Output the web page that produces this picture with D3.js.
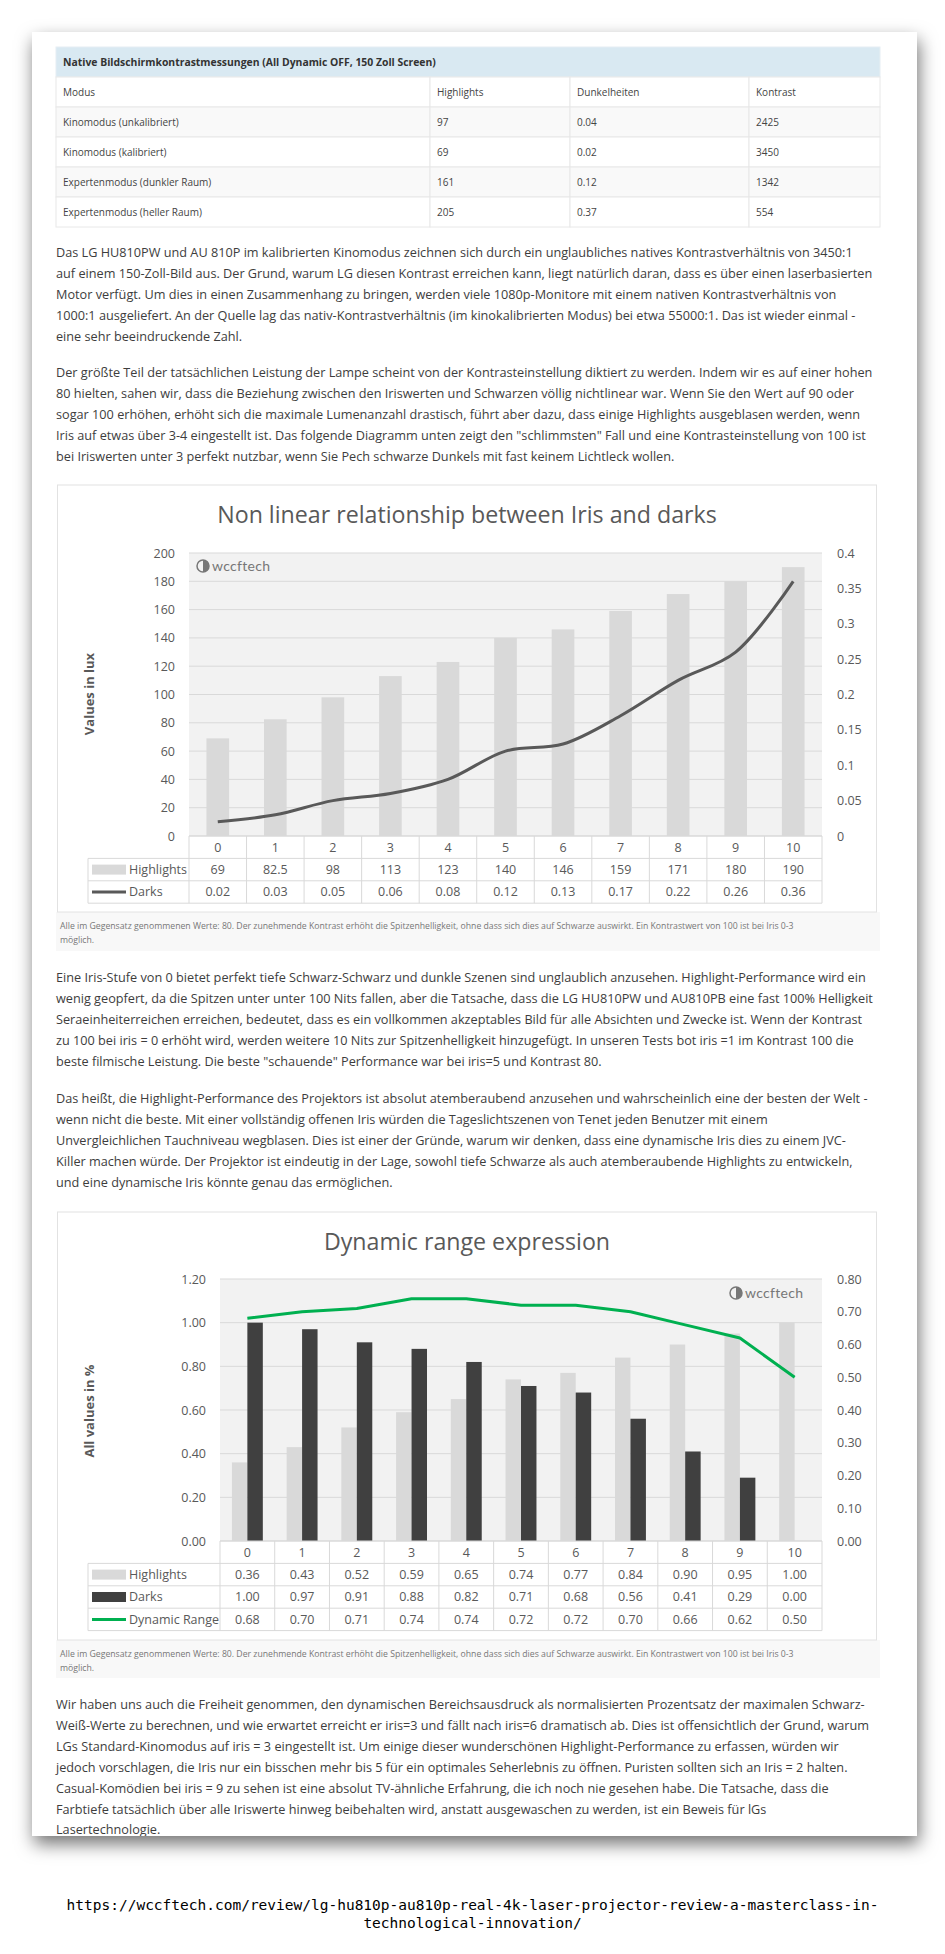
<!DOCTYPE html>
<html>
<head>
<meta charset="utf-8">
<script src="https://cdn.jsdelivr.net/npm/d3@7"></script>
<style>
  body { margin: 0; background: #fff; }
  svg text { font-family: "Open Sans", sans-serif; }
</style>
</head>
<body>
<div id="page"></div>
<script>
// ---- data ----
const tableTitle = "Native Bildschirmkontrastmessungen (All Dynamic OFF, 150 Zoll Screen)";
const tableHead = ["Modus", "Highlights", "Dunkelheiten", "Kontrast"];
const tableModes = ["Kinomodus (unkalibriert)", "Kinomodus (kalibriert)", "Expertenmodus (dunkler Raum)", "Expertenmodus (heller Raum)"];
const tableHighlights = [97, 69, 161, 205];
const tableDarks = [0.04, 0.02, 0.12, 0.37];
const tableContrast = [2425, 3450, 1342, 554];

const iris = [0, 1, 2, 3, 4, 5, 6, 7, 8, 9, 10];
const luxHighlights = [69, 82.5, 98, 113, 123, 140, 146, 159, 171, 180, 190];
const luxDarks = [0.02, 0.03, 0.05, 0.06, 0.08, 0.12, 0.13, 0.17, 0.22, 0.26, 0.36];
const luxTicks = [0, 20, 40, 60, 80, 100, 120, 140, 160, 180, 200];
const darkTicks = [0, 0.05, 0.1, 0.15, 0.2, 0.25, 0.3, 0.35, 0.4];

const normHighlights = [0.36, 0.43, 0.52, 0.59, 0.65, 0.74, 0.77, 0.84, 0.90, 0.95, 1.00];
const normDarks = [1.00, 0.97, 0.91, 0.88, 0.82, 0.71, 0.68, 0.56, 0.41, 0.29, 0.00];
const dynamicRange = [0.68, 0.70, 0.71, 0.74, 0.74, 0.72, 0.72, 0.70, 0.66, 0.62, 0.50];
const pctTicks = [0, 0.2, 0.4, 0.6, 0.8, 1.0, 1.2];
const dynTicks = [0, 0.1, 0.2, 0.3, 0.4, 0.5, 0.6, 0.7, 0.8];

const caption = [
  "Alle im Gegensatz genommenen Werte: 80. Der zunehmende Kontrast erhöht die Spitzenhelligkeit, ohne dass sich dies auf Schwarze auswirkt. Ein Kontrastwert von 100 ist bei Iris 0-3",
  "möglich."
];
const para1 = [
  "Das LG HU810PW und AU 810P im kalibrierten Kinomodus zeichnen sich durch ein unglaubliches natives Kontrastverhältnis von 3450:1",
  "auf einem 150-Zoll-Bild aus. Der Grund, warum LG diesen Kontrast erreichen kann, liegt natürlich daran, dass es über einen laserbasierten",
  "Motor verfügt. Um dies in einen Zusammenhang zu bringen, werden viele 1080p-Monitore mit einem nativen Kontrastverhältnis von",
  "1000:1 ausgeliefert. An der Quelle lag das nativ-Kontrastverhältnis (im kinokalibrierten Modus) bei etwa 55000:1. Das ist wieder einmal -",
  "eine sehr beeindruckende Zahl."
];
const para2 = [
  "Der größte Teil der tatsächlichen Leistung der Lampe scheint von der Kontrasteinstellung diktiert zu werden. Indem wir es auf einer hohen",
  "80 hielten, sahen wir, dass die Beziehung zwischen den Iriswerten und Schwarzen völlig nichtlinear war. Wenn Sie den Wert auf 90 oder",
  "sogar 100 erhöhen, erhöht sich die maximale Lumenanzahl drastisch, führt aber dazu, dass einige Highlights ausgeblasen werden, wenn",
  "Iris auf etwas über 3-4 eingestellt ist. Das folgende Diagramm unten zeigt den \"schlimmsten\" Fall und eine Kontrasteinstellung von 100 ist",
  "bei Iriswerten unter 3 perfekt nutzbar, wenn Sie Pech schwarze Dunkels mit fast keinem Lichtleck wollen."
];
const para3 = [
  "Eine Iris-Stufe von 0 bietet perfekt tiefe Schwarz-Schwarz und dunkle Szenen sind unglaublich anzusehen. Highlight-Performance wird ein",
  "wenig geopfert, da die Spitzen unter unter 100 Nits fallen, aber die Tatsache, dass die LG HU810PW und AU810PB eine fast 100% Helligkeit",
  "Seraeinheiterreichen erreichen, bedeutet, dass es ein vollkommen akzeptables Bild für alle Absichten und Zwecke ist. Wenn der Kontrast",
  "zu 100 bei iris = 0 erhöht wird, werden weitere 10 Nits zur Spitzenhelligkeit hinzugefügt. In unseren Tests bot iris =1 im Kontrast 100 die",
  "beste filmische Leistung. Die beste \"schauende\" Performance war bei iris=5 und Kontrast 80."
];
const para4 = [
  "Das heißt, die Highlight-Performance des Projektors ist absolut atemberaubend anzusehen und wahrscheinlich eine der besten der Welt -",
  "wenn nicht die beste. Mit einer vollständig offenen Iris würden die Tageslichtszenen von Tenet jeden Benutzer mit einem",
  "Unvergleichlichen Tauchniveau wegblasen. Dies ist einer der Gründe, warum wir denken, dass eine dynamische Iris dies zu einem JVC-",
  "Killer machen würde. Der Projektor ist eindeutig in der Lage, sowohl tiefe Schwarze als auch atemberaubende Highlights zu entwickeln,",
  "und eine dynamische Iris könnte genau das ermöglichen."
];
const para5 = [
  "Wir haben uns auch die Freiheit genommen, den dynamischen Bereichsausdruck als normalisierten Prozentsatz der maximalen Schwarz-",
  "Weiß-Werte zu berechnen, und wie erwartet erreicht er iris=3 und fällt nach iris=6 dramatisch ab. Dies ist offensichtlich der Grund, warum",
  "LGs Standard-Kinomodus auf iris = 3 eingestellt ist. Um einige dieser wunderschönen Highlight-Performance zu erfassen, würden wir",
  "jedoch vorschlagen, die Iris nur ein bisschen mehr bis 5 für ein optimales Seherlebnis zu öffnen. Puristen sollten sich an Iris = 2 halten.",
  "Casual-Komödien bei iris = 9 zu sehen ist eine absolut TV-ähnliche Erfahrung, die ich noch nie gesehen habe. Die Tatsache, dass die",
  "Farbtiefe tatsächlich über alle Iriswerte hinweg beibehalten wird, anstatt ausgewaschen zu werden, ist ein Beweis für lGs",
  "Lasertechnologie."
];
const sourceUrl = [
  "https://wccftech.com/review/lg-hu810p-au810p-real-4k-laser-projector-review-a-masterclass-in-",
  "technological-innovation/"
];

const width = 945;
const height = 1954;
const card = { x: 32, y: 32, w: 885, h: 1804 };
const textColor = '#3d3d3d';
const axisColor = '#595959';

const svg = d3.select('#page')
  .append('svg')
  .attr('width', width)
  .attr('height', height);

const defs = svg.append('defs');
defs.append('filter')
  .attr('id', 'shadow')
  .attr('x', '-10%').attr('y', '-10%').attr('width', '120%').attr('height', '120%')
  .append('feDropShadow')
  .attr('dx', 2).attr('dy', 8).attr('stdDeviation', 9)
  .attr('flood-color', '#000').attr('flood-opacity', 0.55);
defs.append('clipPath').attr('id', 'cardClip')
  .append('rect')
  .attr('x', card.x).attr('y', card.y).attr('width', card.w).attr('height', card.h);

svg.append('rect')
  .attr('x', card.x).attr('y', card.y)
  .attr('width', card.w).attr('height', card.h)
  .attr('fill', '#fff')
  .attr('filter', 'url(#shadow)');

const content = svg.append('g').attr('clip-path', 'url(#cardClip)');

// ---- measurement table ----
const colX = [56, 430, 570, 749, 880];
const tTop = 47, headH = 30, rowH = 30;
const tbl = content.append('g');

tbl.append('rect')
  .attr('x', colX[0]).attr('y', tTop)
  .attr('width', colX[4] - colX[0]).attr('height', headH)
  .attr('fill', '#d9e9f2').attr('stroke', '#e6eef3');
tbl.append('text')
  .attr('x', colX[0] + 7).attr('y', tTop + headH / 2)
  .attr('dy', '0.35em')
  .style('font-size', '10.4px').style('font-weight', 'bold')
  .attr('fill', '#333')
  .text(tableTitle);

const tableRows = [tableHead].concat(tableModes.map((m, i) =>
  [m, tableHighlights[i], tableDarks[i].toFixed(2), tableContrast[i]]));

tableRows.forEach((row, r) => {
  const y = tTop + headH + r * rowH;
  row.forEach((cell, c) => {
    tbl.append('rect')
      .attr('x', colX[c]).attr('y', y)
      .attr('width', colX[c + 1] - colX[c]).attr('height', rowH)
      .attr('fill', r % 2 == 1 ? '#f9f9f9' : '#fff')
      .attr('stroke', '#e8e8e8');
    tbl.append('text')
      .attr('x', colX[c] + 7).attr('y', y + rowH / 2)
      .attr('dy', '0.35em')
      .style('font-size', '10px')
      .attr('fill', '#444')
      .text(cell);
  });
});

// ---- paragraphs ----
const drawPara = (lines, y0) => {
  content.append('g')
    .selectAll('text')
    .data(lines)
    .join('text')
    .attr('x', 56)
    .attr('y', (d, i) => y0 + i * 20.9)
    .style('font-size', '12.7px')
    .attr('fill', textColor)
    .text(d => d);
};

drawPara(para1, 257);
drawPara(para2, 377);
drawPara(para3, 982);
drawPara(para4, 1103);
drawPara(para5, 1709);

// ---- the two excel style charts ----
const drawLogo = (g, x, y) => {
  // little wccftech mark + word
  g.append('circle').attr('cx', x + 7).attr('cy', y).attr('r', 6)
    .attr('fill', 'none').attr('stroke', '#777').attr('stroke-width', 1.5);
  g.append('path')
    .attr('d', `M${x + 7},${y - 6} A6,6 0 0 1 ${x + 7},${y + 6} Z`)
    .attr('fill', '#777');
  g.append('text')
    .attr('x', x + 16).attr('y', y)
    .attr('dy', '0.35em')
    .style('font-family', 'Lato, sans-serif')
    .style('font-size', '14px')
    .style('letter-spacing', '0.3px')
    .attr('fill', '#777')
    .text('wccftech');
};

const drawChart = (o) => {
  const g = content.append('g');

  // chart frame and caption strip
  g.append('rect')
    .attr('x', 56).attr('y', o.boxBottom)
    .attr('width', 824).attr('height', o.capBottom - o.boxBottom)
    .attr('fill', '#f8f8f8');
  g.append('rect')
    .attr('x', 57.5).attr('y', o.boxTop)
    .attr('width', 819).attr('height', o.boxBottom - o.boxTop)
    .attr('fill', '#fff').attr('stroke', '#e2e2e2');

  g.selectAll('.cap')
    .data(caption)
    .join('text')
    .attr('x', 60)
    .attr('y', (d, i) => o.boxBottom + 17 + i * 14)
    .style('font-size', '8.7px')
    .attr('fill', '#777')
    .text(d => d);

  g.append('text')
    .attr('x', 467).attr('y', o.titleY)
    .attr('text-anchor', 'middle')
    .style('font-size', '23.2px')
    .attr('fill', axisColor)
    .text(o.title);

  const x = d3.scaleBand().domain(iris).range([o.x0, o.x1]).padding(0);
  const xs = d3.scaleBand().domain(o.bars.map(b => b.name))
    .range([0, x.bandwidth()]).paddingInner(0).paddingOuter(0.77);
  const yL = d3.scaleLinear().domain(d3.extent(o.leftTicks)).range([o.yBottom, o.yTop]);
  const yR = d3.scaleLinear().domain(d3.extent(o.rightTicks)).range([o.yBottom, o.yTop]);

  // plot area + gridlines
  g.append('rect')
    .attr('x', o.x0).attr('y', o.yTop)
    .attr('width', o.x1 - o.x0).attr('height', o.yBottom - o.yTop)
    .attr('fill', '#f2f2f2');
  g.append('g')
    .selectAll('line')
    .data(o.leftTicks)
    .join('line')
    .attr('x1', o.x0).attr('x2', o.x1)
    .attr('y1', d => yL(d)).attr('y2', d => yL(d))
    .attr('stroke', '#d9d9d9');

  drawLogo(g, o.logoX, o.logoY);

  o.bars.forEach(b => {
    g.append('g')
      .selectAll('rect')
      .data(b.values)
      .join('rect')
      .attr('x', (d, i) => x(iris[i]) + xs(b.name))
      .attr('y', d => yL(d))
      .attr('width', xs.bandwidth())
      .attr('height', d => o.yBottom - yL(d))
      .attr('fill', b.color);
  });

  const line = d3.line()
    .x((d, i) => x(iris[i]) + x.bandwidth() / 2)
    .y(d => yR(d))
    .curve(o.curve);
  g.append('path')
    .datum(o.line.values)
    .attr('d', line)
    .attr('fill', 'none')
    .attr('stroke', o.line.color)
    .attr('stroke-width', 3)
    .attr('stroke-linejoin', 'round');

  // axes, labels only
  const left = g.append('g')
    .attr('transform', `translate(${o.leftLabelX},0)`)
    .call(d3.axisLeft(yL).tickValues(o.leftTicks).tickFormat(o.leftFormat).tickSize(0).tickPadding(0));
  const right = g.append('g')
    .attr('transform', `translate(837,0)`)
    .call(d3.axisRight(yR).tickValues(o.rightTicks).tickFormat(o.rightFormat).tickSize(0).tickPadding(0));
  [left, right].forEach(a => {
    a.select('.domain').remove();
    a.selectAll('text')
      .style('font-family', '"Open Sans", sans-serif')
      .style('font-size', '12.5px')
      .attr('fill', axisColor);
  });

  g.append('text')
    .attr('transform', `translate(89,${o.yTitleY}) rotate(-90)`)
    .attr('text-anchor', 'middle')
    .attr('dy', '0.35em')
    .style('font-size', '13px')
    .style('font-weight', 'bold')
    .attr('fill', axisColor)
    .text(o.yTitle);

  // data table under the plot
  const rowsH = 22.4;
  const series = o.bars.map(b => ({ name: b.name, values: b.values, key: 'bar', color: b.color }))
    .concat([{ name: o.line.name, values: o.line.values, key: 'line', color: o.line.color }])
    .sort((a, b) => o.order.indexOf(a.name) - o.order.indexOf(b.name));
  const tg = g.append('g');
  const border = '#d9d9d9';

  tg.selectAll('.cat')
    .data(iris)
    .join('text')
    .attr('x', d => x(d) + x.bandwidth() / 2)
    .attr('y', o.yBottom + rowsH / 2)
    .attr('dy', '0.35em')
    .attr('text-anchor', 'middle')
    .style('font-size', '12.5px')
    .attr('fill', axisColor)
    .text(d => d);

  series.forEach((s, r) => {
    const yTop = o.yBottom + rowsH * (r + 1);
    const yMid = yTop + rowsH / 2;
    if (s.key == 'bar') {
      tg.append('rect')
        .attr('x', 92).attr('y', yMid - 5)
        .attr('width', 34).attr('height', 10)
        .attr('fill', s.color);
    } else {
      tg.append('line')
        .attr('x1', 92).attr('x2', 126)
        .attr('y1', yMid).attr('y2', yMid)
        .attr('stroke', s.color).attr('stroke-width', 3);
    }
    tg.append('text')
      .attr('x', 129).attr('y', yMid)
      .attr('dy', '0.35em')
      .style('font-size', '12.5px')
      .attr('fill', axisColor)
      .text(s.name);
    tg.selectAll(null)
      .data(s.values)
      .join('text')
      .attr('x', (d, i) => x(iris[i]) + x.bandwidth() / 2)
      .attr('y', yMid)
      .attr('dy', '0.35em')
      .attr('text-anchor', 'middle')
      .style('font-size', '12.5px')
      .attr('fill', axisColor)
      .text(d => o.tableFormat(d));
  });

  const tableBottom = o.yBottom + rowsH * (series.length + 1);
  // horizontal rules
  tg.append('line')
    .attr('x1', o.x0).attr('x2', o.x1)
    .attr('y1', o.yBottom).attr('y2', o.yBottom)
    .attr('stroke', border);
  tg.selectAll(null)
    .data(d3.range(1, series.length + 2))
    .join('line')
    .attr('x1', 88).attr('x2', o.x1)
    .attr('y1', d => o.yBottom + rowsH * d).attr('y2', d => o.yBottom + rowsH * d)
    .attr('stroke', border);
  // vertical rules
  tg.selectAll(null)
    .data(iris.map(c => x(c)).concat([o.x1]))
    .join('line')
    .attr('x1', d => d).attr('x2', d => d)
    .attr('y1', o.yBottom).attr('y2', tableBottom)
    .attr('stroke', border);
  tg.append('line')
    .attr('x1', 88).attr('x2', 88)
    .attr('y1', o.yBottom + rowsH).attr('y2', tableBottom)
    .attr('stroke', border);
};

drawChart({
  title: 'Non linear relationship between Iris and darks',
  boxTop: 485, boxBottom: 912, capBottom: 951, titleY: 523,
  x0: 189, x1: 822, yTop: 553, yBottom: 836,
  leftLabelX: 175, yTitle: 'Values in lux', yTitleY: 694,
  leftTicks: luxTicks, leftFormat: d => d,
  rightTicks: darkTicks, rightFormat: d => String(+d.toFixed(2)),
  bars: [{ name: 'Highlights', values: luxHighlights, color: '#d9d9d9' }],
  line: { name: 'Darks', values: luxDarks, color: '#595959' },
  order: ['Highlights', 'Darks'],
  tableFormat: d => String(d),
  curve: d3.curveCatmullRom.alpha(0.5),
  logoX: 196, logoY: 566
});

drawChart({
  title: 'Dynamic range expression',
  boxTop: 1212, boxBottom: 1640, capBottom: 1678, titleY: 1250,
  x0: 220, x1: 822, yTop: 1279, yBottom: 1541,
  leftLabelX: 206, yTitle: 'All values in %', yTitleY: 1411,
  leftTicks: pctTicks, leftFormat: d3.format('.2f'),
  rightTicks: dynTicks, rightFormat: d3.format('.2f'),
  bars: [
    { name: 'Highlights', values: normHighlights, color: '#d9d9d9' },
    { name: 'Darks', values: normDarks, color: '#404040' }
  ],
  line: { name: 'Dynamic Range', values: dynamicRange, color: '#00b050' },
  order: ['Highlights', 'Darks', 'Dynamic Range'],
  tableFormat: d3.format('.2f'),
  curve: d3.curveLinear,
  logoX: 729, logoY: 1293
});

// ---- source line under the card ----
svg.append('g')
  .selectAll('text')
  .data(sourceUrl)
  .join('text')
  .attr('x', width / 2)
  .attr('y', (d, i) => 1910 + i * 18)
  .attr('text-anchor', 'middle')
  .style('font-family', '"DejaVu Sans Mono", monospace')
  .style('font-size', '14.5px')
  .attr('fill', '#000')
  .text(d => d);
</script>
</body>
</html>
